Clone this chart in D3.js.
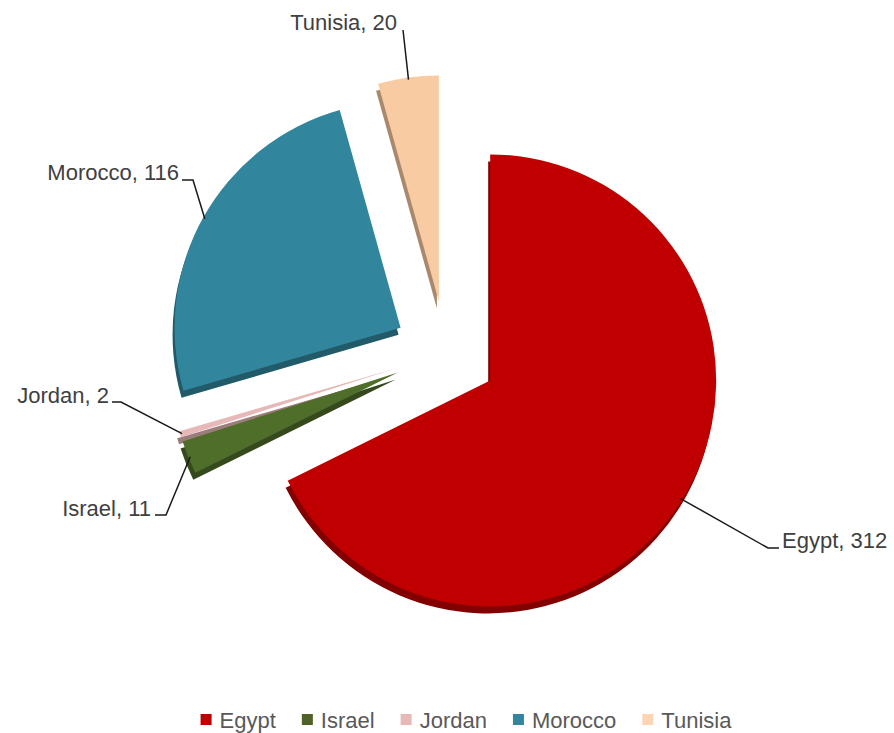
<!DOCTYPE html>
<html>
<head>
<meta charset="utf-8">
<script src="https://cdn.jsdelivr.net/npm/d3@7"></script>
<style>
  body { margin: 0; background: #fff; }
  svg { display: block; font-family: "Liberation Sans", Arial, sans-serif; }
</style>
</head>
<body>
<div id="chart"></div>
<script>
var countries = ["Egypt", "Israel", "Jordan", "Morocco", "Tunisia"];
var counts = [312, 11, 2, 116, 20];
var colors = ["#C00000", "#4F6E2A", "#E6B9B8", "#31859C", "#F9CBA3"];
var legendColors = ["#C00000", "#4F6228", "#E6B9B8", "#31859C", "#FCD5B5"];

// label placement (text baseline + leader bend points)
var labelLayout = {
  Egypt:   { x: 782, y: 548, anchor: "start", bend: [[768, 548], [779, 548]] },
  Israel:  { x: 151, y: 516, anchor: "end",   bend: [[166, 515], [155, 515]] },
  Jordan:  { x: 109, y: 403, anchor: "end",   bend: [[121, 402], [112, 402]] },
  Morocco: { x: 179, y: 180, anchor: "end",   bend: [[193, 180], [182, 180]] },
  Tunisia: { x: 397, y: 30,  anchor: "end",   bend: [[403, 30]] }
};

var width = 894,
    height = 733,
    cx = 446,
    cy = 353,
    radius = 226,
    explode = 52,
    shadowDx = -2,
    shadowDy = 7;

var data = countries.map(function (c, i) {
  return { name: c, value: counts[i], color: colors[i], legend: legendColors[i] };
});

var pie = d3.pie().sort(null).value(function (d) { return d.value; });
var arc = d3.arc().innerRadius(0).outerRadius(radius);
var arcs = pie(data);

var svg = d3.select("#chart").append("svg")
  .attr("width", width)
  .attr("height", height);

function offset(d) {
  var a = (d.startAngle + d.endAngle) / 2;
  return [cx + Math.sin(a) * explode, cy - Math.cos(a) * explode];
}

var slices = svg.append("g").attr("class", "slices");

// darker extruded edge under each slice
slices.selectAll("path.shadow")
  .data(arcs)
  .enter()
  .append("path")
  .attr("class", "shadow")
  .attr("d", arc)
  .attr("fill", function (d) { return d3.color(d.data.color).darker(1.1); })
  .attr("transform", function (d) {
    var o = offset(d);
    return "translate(" + (o[0] + shadowDx) + "," + (o[1] + shadowDy) + ")";
  });

slices.selectAll("path.face")
  .data(arcs)
  .enter()
  .append("path")
  .attr("class", "face")
  .attr("d", arc)
  .attr("fill", function (d) { return d.data.color; })
  .attr("transform", function (d) {
    var o = offset(d);
    return "translate(" + o[0] + "," + o[1] + ")";
  });

// leader lines and labels
var labels = svg.append("g").attr("class", "labels");

arcs.forEach(function (d) {
  var o = offset(d);
  var a = (d.startAngle + d.endAngle) / 2;
  var start = [o[0] + Math.sin(a) * (radius - 2), o[1] - Math.cos(a) * (radius - 2)];
  var lay = labelLayout[d.data.name];
  var pts = [start].concat(lay.bend);

  labels.append("path")
    .attr("d", d3.line()(pts))
    .attr("fill", "none")
    .attr("stroke", "#1a1a1a")
    .attr("stroke-width", 1.5);

  labels.append("text")
    .attr("x", lay.x)
    .attr("y", lay.y)
    .attr("text-anchor", lay.anchor)
    .attr("font-size", 22)
    .attr("fill", "#404040")
    .text(d.data.name + ", " + d.data.value);
});

// legend
var legend = svg.append("g").attr("class", "legend");
var items = legend.selectAll("g")
  .data(data)
  .enter()
  .append("g");

items.append("rect")
  .attr("width", 11)
  .attr("height", 11)
  .attr("y", -6)
  .attr("fill", function (d) { return d.legend; });

items.append("text")
  .attr("x", 19)
  .attr("y", 8)
  .attr("font-size", 22)
  .attr("fill", "#595959")
  .text(function (d) { return d.name; });

var lx = 0;
items.each(function () {
  var g = d3.select(this);
  g.attr("transform", "translate(" + lx + ",0)");
  lx += 19 + g.select("text").node().getComputedTextLength() + 26;
});
lx -= 26;
legend.attr("transform", "translate(" + (466 - lx / 2) + ",720)");
</script>
</body>
</html>
